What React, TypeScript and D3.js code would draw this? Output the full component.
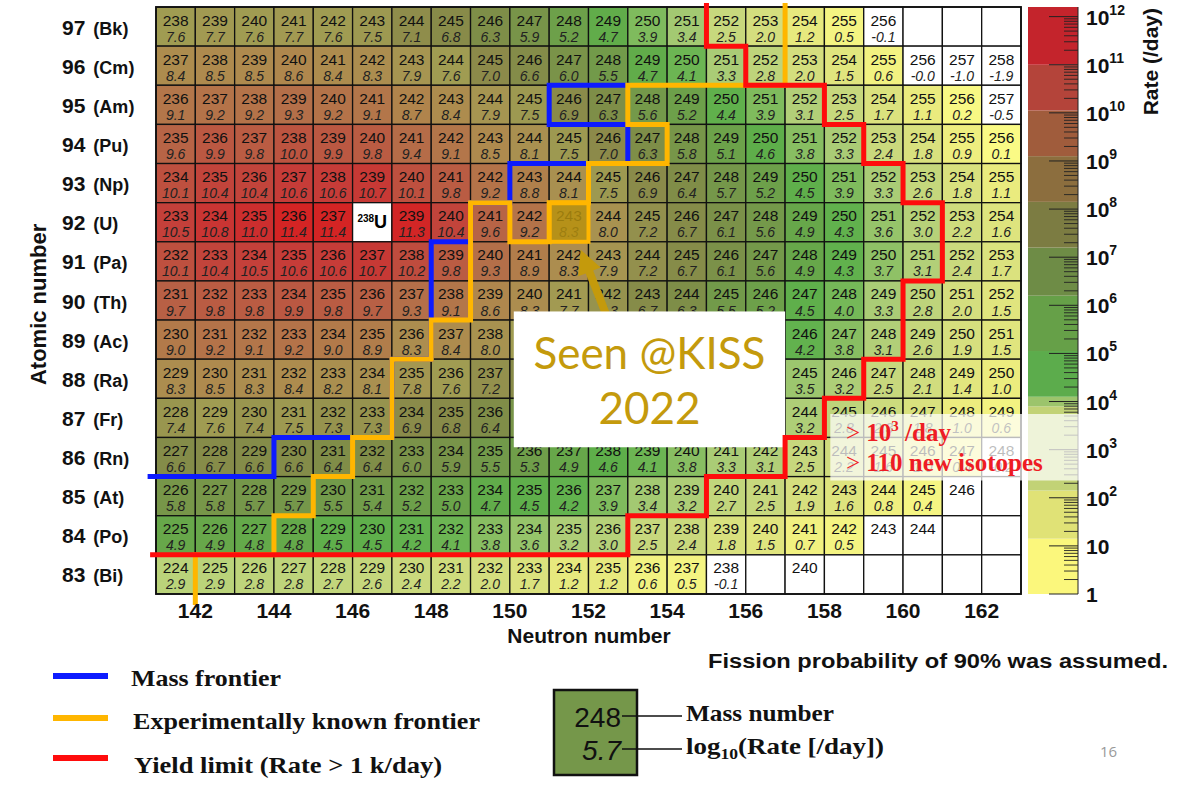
import React from 'react';
import * as d3 from 'd3';

const W = 1179;
const H = 785;

// columns run from N = 141 to N = 162
const N_FIRST = 141;
const N_LAST = 162;

// log10(rate [/day]) per cell, left to right. null = no cell, M = mass number only
const M = NaN;

const bk = [7.6, 7.7, 7.6, 7.7, 7.6, 7.5, 7.1, 6.8, 6.3, 5.9, 5.2, 4.7, 3.9, 3.4, 2.5, 2.0, 1.2, 0.5, -0.1, null, null, null];
const cm = [8.4, 8.5, 8.5, 8.6, 8.4, 8.3, 7.9, 7.6, 7.0, 6.6, 6.0, 5.5, 4.7, 4.1, 3.3, 2.8, 2.0, 1.5, 0.6, -0, -1.0, -1.9];
const am = [9.1, 9.2, 9.2, 9.3, 9.2, 9.1, 8.7, 8.4, 7.9, 7.5, 6.9, 6.3, 5.6, 5.2, 4.4, 3.9, 3.1, 2.5, 1.7, 1.1, 0.2, -0.5];
const pu = [9.6, 9.9, 9.8, 10.0, 9.9, 9.8, 9.4, 9.1, 8.5, 8.1, 7.5, 7.0, 6.3, 5.8, 5.1, 4.6, 3.8, 3.3, 2.4, 1.8, 0.9, 0.1];
const np = [10.1, 10.4, 10.4, 10.6, 10.6, 10.7, 10.1, 9.8, 9.2, 8.8, 8.1, 7.5, 6.9, 6.4, 5.7, 5.2, 4.5, 3.9, 3.3, 2.6, 1.8, 1.1];
const u = [10.5, 10.8, 11.0, 11.4, 11.4, null, 11.3, 10.4, 9.6, 9.2, 8.3, 8.0, 7.2, 6.7, 6.1, 5.6, 4.9, 4.3, 3.6, 3.0, 2.2, 1.6];
const pa = [10.1, 10.4, 10.5, 10.6, 10.6, 10.7, 10.2, 9.8, 9.3, 8.9, 8.3, 7.9, 7.2, 6.7, 6.1, 5.6, 4.9, 4.3, 3.7, 3.1, 2.4, 1.7];
const th = [9.7, 9.8, 9.8, 9.9, 9.8, 9.7, 9.3, 9.1, 8.6, 8.3, 7.7, 7.3, 6.7, 6.3, 5.5, 5.2, 4.5, 4.0, 3.3, 2.8, 2.0, 1.5];
const ac = [9.0, 9.2, 9.1, 9.2, 9.0, 8.9, 8.3, 8.4, 8.0, 7.6, 7.2, 6.6, 6.2, 5.6, 5.2, 4.6, 4.2, 3.8, 3.1, 2.6, 1.9, 1.5];
const ra = [8.3, 8.5, 8.3, 8.4, 8.2, 8.1, 7.8, 7.6, 7.2, 6.8, 6.3, 5.9, 5.4, 4.9, 4.4, 4.0, 3.5, 3.2, 2.5, 2.1, 1.4, 1.0];
const fr = [7.4, 7.6, 7.4, 7.5, 7.3, 7.3, 6.9, 6.8, 6.4, 5.9, 5.5, 5.0, 4.6, 4.2, 3.8, 3.5, 3.2, 2.8, 2.3, 1.8, 1.0, 0.6];
const rn = [6.6, 6.7, 6.6, 6.6, 6.4, 6.4, 6.0, 5.9, 5.5, 5.3, 4.9, 4.6, 4.1, 3.8, 3.3, 3.1, 2.5, 2.2, 1.6, 1.0, 0.4, -0.2];
const at = [5.8, 5.8, 5.7, 5.7, 5.5, 5.4, 5.2, 5.0, 4.7, 4.5, 4.2, 3.9, 3.4, 3.2, 2.7, 2.5, 1.9, 1.6, 0.8, 0.4, M, null];
const po = [4.9, 4.9, 4.8, 4.8, 4.5, 4.5, 4.2, 4.1, 3.8, 3.6, 3.2, 3.0, 2.5, 2.4, 1.8, 1.5, 0.7, 0.5, M, M, null, null];
const bi = [2.9, 2.9, 2.8, 2.8, 2.7, 2.6, 2.4, 2.2, 2.0, 1.7, 1.2, 1.2, 0.6, 0.5, -0.1, null, M, null, null, null, null, null];

const elements = [
  { z: 97, sym: 'Bk', rates: bk },
  { z: 96, sym: 'Cm', rates: cm },
  { z: 95, sym: 'Am', rates: am },
  { z: 94, sym: 'Pu', rates: pu },
  { z: 93, sym: 'Np', rates: np },
  { z: 92, sym: 'U', rates: u },
  { z: 91, sym: 'Pa', rates: pa },
  { z: 90, sym: 'Th', rates: th },
  { z: 89, sym: 'Ac', rates: ac },
  { z: 88, sym: 'Ra', rates: ra },
  { z: 87, sym: 'Fr', rates: fr },
  { z: 86, sym: 'Rn', rates: rn },
  { z: 85, sym: 'At', rates: at },
  { z: 84, sym: 'Po', rates: po },
  { z: 83, sym: 'Bi', rates: bi },
];

// the target nucleus, and the isotope seen at KISS
const target = { n: 146, z: 92, mass: '238', sym: 'U' };
const seenKiss = { n: 151, z: 92 };

// frontier lines along cell edges: [N edge, Z edge]
const massFrontier: [number, number][] = [
  [140.85, 86], [144, 86], [144, 87], [147, 87], [147, 89], [148, 89], [148, 92], [149, 92],
  [149, 93], [150, 93], [150, 94], [153, 94], [153, 95], [151, 95], [151, 96], [153, 96],
];
const knownFrontier: [number, number][] = [
  [142, 82.72], [142, 84], [144, 84], [144, 85], [145, 85], [145, 86], [146, 86], [146, 87],
  [147, 87], [147, 89], [148, 89], [148, 90], [149, 90], [149, 93], [150, 93], [150, 92],
  [151, 92], [151, 93], [152, 93], [152, 94], [154, 94], [154, 95], [153, 95], [153, 96],
  [157, 96], [157, 98.1],
];
const yieldLimit: [number, number][] = [
  [140.85, 84], [153, 84], [153, 85], [155, 85], [155, 86], [157, 86], [157, 87], [158, 87],
  [158, 88], [159, 88], [159, 89], [160, 89], [160, 91], [161, 91], [161, 93], [160, 93],
  [160, 94], [159, 94], [159, 95], [158, 95], [158, 96], [156, 96], [156, 97], [155, 97],
  [155, 98.1],
];

const nTicks = [142, 144, 146, 148, 150, 152, 154, 156, 158, 160, 162];
const decades = [0, 1, 2, 3, 4, 5, 6, 7, 8, 9, 10, 11, 12];

// colour palette
const cellStops: [number, string][] = [
  [0, '#fbfb86'], [1, '#ecec7e'], [2, '#d4de7e'], [2.7, '#c2d67c'], [3.3, '#aacc76'],
  [3.8, '#88be62'], [4.2, '#62b24e'], [4.6, '#5eae4a'], [5.0, '#6aa44a'], [5.5, '#729a4a'],
  [6.3, '#7e8e48'], [7.0, '#8c8a4a'], [7.6, '#a09c52'], [8.0, '#a89250'], [8.5, '#ae8a4e'],
  [9.0, '#b27a4a'], [9.5, '#b66848'], [10.0, '#bc5440'], [10.5, '#c4403a'], [11.0, '#cc2e2e'],
  [11.4, '#d42424'],
];
const barEdges = [0, 1.15, 2.15, 3.9, 4.1, 5.05, 6.2, 7.2, 8.15, 9.1, 10.05, 11, 12.2];
const barColors = ['#fbf77c', '#e0e276', '#c2d276', '#9cc46c', '#5cac4c', '#66a048', '#6e8c46',
  '#7c7c42', '#8c6e3e', '#a05c3c', '#b4443a', '#c4242c'];

const SANS = 'Liberation Sans, Arial, Helvetica, sans-serif';
const SERIF = 'Liberation Serif, Times New Roman, serif';
const BLUE = '#0d1bff';
const ORANGE = '#ffb600';
const RED = '#ff0c0c';
const GOLD = '#c49a0c';

const fmt = (v: number) => (v < 0 || Object.is(v, -0) ? '-' + Math.abs(v).toFixed(1) : v.toFixed(1));

export default function App() {
  const x = d3.scaleLinear().domain([N_FIRST, N_LAST + 1]).range([156, 1021]);
  const y = d3.scaleLinear().domain([83, 98]).range([594, 7]);
  const cb = d3.scaleLinear().domain([0, 12.2]).range([594, 7]);
  const fill = d3.scaleLinear<string>()
    .domain(cellStops.map(d => d[0]))
    .range(cellStops.map(d => d[1]))
    .clamp(true);
  const line = d3.line<[number, number]>().x(d => x(d[0])).y(d => y(d[1]));
  const cw = x(N_FIRST + 1) - x(N_FIRST);
  const ch = y(83) - y(84);

  const cells = elements.flatMap(el =>
    el.rates.map((r, i) => ({ n: N_FIRST + i, z: el.z, r }))
  );

  // arrow from the annotation box to the 243U cell
  const tail = [x(152.7), y(89.5)];
  const tip = [x(151.8), y(91.8)];
  const dx = tip[0] - tail[0], dy = tip[1] - tail[1];
  const len = Math.hypot(dx, dy);
  const ux = dx / len, uy = dy / len, px = -uy, py = ux;
  const hl = 24, hw = 12, sw = 4;
  const bx = tip[0] - ux * hl, by = tip[1] - uy * hl;
  const arrowPts = [
    [tail[0] + px * sw, tail[1] + py * sw],
    [bx + px * sw, by + py * sw],
    [bx + px * hw, by + py * hw],
    tip,
    [bx - px * hw, by - py * hw],
    [bx - px * sw, by - py * sw],
    [tail[0] - px * sw, tail[1] - py * sw],
  ].map(p => p.join(',')).join(' ');

  const cbMinor = decades.slice(0, 12).flatMap(k => [2, 3, 4, 5, 6, 7, 8, 9].map(m => k + Math.log10(m)));
  const boxL = x(150.1), boxR = x(157);

  return (
    <svg width={W} height={H} style={{ position: 'absolute', left: 0, top: 0, background: '#fff' }}>
      <rect width={W} height={H} fill="#fff" />

      {/* cells */}
      <g>
        {cells.map(c => {
          const hasVal = c.r !== null && !Number.isNaN(c.r);
          const bg = hasVal && (c.r as number) >= 0.05 && !Object.is(c.r, -0) ? fill(c.r as number) : '#fff';
          return (
            <rect key={`r${c.z}-${c.n}`} x={x(c.n)} y={y(c.z + 1)} width={cw} height={ch}
              fill={bg} stroke="#111" strokeWidth={1.3} />
          );
        })}
        {cells.filter(c => c.r !== null).map(c => {
          const cx = x(c.n + 0.5);
          const top = y(c.z + 1);
          return (
            <g key={`t${c.z}-${c.n}`} fontFamily={SANS} textAnchor="middle">
              <text x={cx} y={top + 18.5} fontSize={15.5} fill="#111">{c.z + c.n}</text>
              {!Number.isNaN(c.r) && (
                <text x={cx} y={top + 34.6} fontSize={14} fontStyle="italic" fill="#222">{fmt(c.r as number)}</text>
              )}
            </g>
          );
        })}
        <text x={x(target.n + 0.5)} y={y(target.z + 0.5) + 6} textAnchor="middle" fontFamily={SANS} fontWeight="bold">
          <tspan fontSize={10} dy={-6}>{target.mass}</tspan>
          <tspan fontSize={18} dy={6}>{target.sym}</tspan>
        </text>
      </g>

      {/* frame */}
      <rect x={x(N_FIRST)} y={y(98)} width={x(N_LAST + 1) - x(N_FIRST)} height={y(83) - y(98)}
        fill="none" stroke="#111" strokeWidth={1.8} />

      {/* 243U seen at KISS */}
      <rect x={x(seenKiss.n)} y={y(seenKiss.z + 1)} width={cw} height={ch}
        fill="#b8920e" fillOpacity={0.82} stroke={ORANGE} strokeWidth={4} />
      <polygon points={arrowPts} fill={GOLD} />

      {/* annotation box */}
      <rect x={boxL} y={y(90.22)} width={boxR - boxL} height={y(86.75) - y(90.22)} fill="#fff" />
      <text x={(boxL + boxR) / 2} y={369} textAnchor="middle" fontFamily="Lato, Open Sans, sans-serif"
        fontSize={44} fill={GOLD}>Seen @KISS</text>
      <text x={(boxL + boxR) / 2} y={424} textAnchor="middle" fontFamily="Lato, Open Sans, sans-serif"
        fontSize={44} fill={GOLD}>2022</text>

      {/* frontiers */}
      <path d={line(massFrontier) || ''} fill="none" stroke={BLUE} strokeWidth={5} strokeLinejoin="miter" strokeLinecap="square" />
      <path d={line(knownFrontier) || ''} fill="none" stroke={ORANGE} strokeWidth={5} strokeLinejoin="miter" strokeLinecap="butt" />
      <path d={line(yieldLimit) || ''} fill="none" stroke={RED} strokeWidth={5} strokeLinejoin="miter" strokeLinecap="butt" />

      {/* y axis */}
      {elements.map(el => (
        <text key={`y${el.z}`} x={62} y={y(el.z + 0.5) + 8} fontFamily={SANS} fontWeight="bold" fill="#111">
          <tspan fontSize={21}>{el.z}</tspan>
          <tspan fontSize={18} dx={8}>({el.sym})</tspan>
        </text>
      ))}
      <text transform={`translate(46,${y(90.4)}) rotate(-90)`} textAnchor="middle" fontFamily={SANS}
        fontWeight="bold" fontSize={22} fill="#111">Atomic number</text>

      {/* x axis */}
      {nTicks.map(t => (
        <text key={`x${t}`} x={x(t)} y={618} textAnchor="middle" fontFamily={SANS} fontWeight="bold"
          fontSize={21} fill="#111">{t}</text>
      ))}
      <text x={589} y={643} textAnchor="middle" fontFamily={SANS} fontWeight="bold" fontSize={21} fill="#111">Neutron number</text>

      {/* colour bar */}
      <g>
        {barColors.map((c, i) => (
          <rect key={`b${i}`} x={1028} y={cb(barEdges[i + 1])} width={50} height={cb(barEdges[i]) - cb(barEdges[i + 1])} fill={c} />
        ))}
        <line x1={1078} x2={1078} y1={cb(12.2)} y2={cb(0)} stroke="#222" strokeWidth={1} />
        {decades.map(k => (
          <line key={`M${k}`} x1={1078} x2={1049} y1={cb(k)} y2={cb(k)} stroke="#222" strokeWidth={1} />
        ))}
        {cbMinor.map((v, i) => (
          <line key={`m${i}`} x1={1078} x2={1064} y1={cb(v)} y2={cb(v)} stroke="#222" strokeWidth={0.9} />
        ))}
        {decades.map(k => (
          <text key={`l${k}`} x={1086} y={cb(k) + 8} fontFamily={SANS} fontWeight="bold" fontSize={21} fill="#111">
            {k === 0 ? '1' : '10'}
            {k > 1 && <tspan fontSize={14} dy={-10}>{k}</tspan>}
          </text>
        ))}
        <text transform="translate(1158,8) rotate(-90)" textAnchor="end" fontFamily={SANS} fontWeight="bold"
          fontSize={21} fill="#111">Rate (/day)</text>
      </g>

      {/* new-isotopes overlay */}
      <rect x={x(158.15)} y={y(87.6)} width={1080 - x(158.15)} height={y(85.9) - y(87.6)} fill="#fff" fillOpacity={0.72} />
      <text x={846} y={441} fontFamily={SERIF} fontSize={25} fill="#ee1c24">
        <tspan>&gt; </tspan>
        <tspan fontWeight="bold">10</tspan>
        <tspan fontWeight="bold" fontSize={15} dy={-10}>3</tspan>
        <tspan fontWeight="bold" dy={10}> /day</tspan>
      </text>
      <text x={846} y={471} fontFamily={SERIF} fontSize={25} fill="#ee1c24">
        <tspan>&gt; </tspan>
        <tspan fontWeight="bold">110 new isotopes</tspan>
      </text>

      {/* line legend */}
      <g fontFamily={SERIF} fontWeight="bold" fontSize={23} fill="#111">
        <line x1={53} x2={108} y1={676} y2={676} stroke={BLUE} strokeWidth={6} />
        <text x={131} y={686} textLength={150} lengthAdjust="spacingAndGlyphs">Mass frontier</text>
        <line x1={53} x2={108} y1={718} y2={718} stroke={ORANGE} strokeWidth={6} />
        <text x={133} y={729} textLength={347} lengthAdjust="spacingAndGlyphs">Experimentally known frontier</text>
        <line x1={53} x2={108} y1={758} y2={758} stroke={RED} strokeWidth={6} />
        <text x={134} y={773} textLength={308} lengthAdjust="spacingAndGlyphs">Yield limit (Rate &gt; 1 k/day)</text>
      </g>

      <text x={708} y={668} fontFamily={SANS} fontWeight="bold" fontSize={20} fill="#111"
        textLength={460} lengthAdjust="spacingAndGlyphs">
        Fission probability of 90% was assumed.
      </text>

      {/* cell legend */}
      <rect x={554} y={690} width={83} height={85} fill={fill(5.7)} stroke="#111" strokeWidth={2.5} />
      <text x={621} y={727} textAnchor="end" fontFamily={SANS} fontSize={28} fill="#111">248</text>
      <text x={621} y={760} textAnchor="end" fontFamily={SANS} fontStyle="italic" fontSize={28} fill="#111">5.7</text>
      <line x1={622} x2={682} y1={716} y2={716} stroke="#111" strokeWidth={1.5} />
      <line x1={622} x2={682} y1={749} y2={749} stroke="#111" strokeWidth={1.5} />
      <g fontFamily={SERIF} fontWeight="bold" fontSize={23} fill="#111">
        <text x={686} y={721} textLength={148} lengthAdjust="spacingAndGlyphs">Mass number</text>
        <text x={686} y={754} textLength={198} lengthAdjust="spacingAndGlyphs">
          log<tspan fontSize={15} dy={5}>10</tspan><tspan dy={-5}>(Rate [/day])</tspan>
        </text>
      </g>
      <text x={1100} y={757} fontFamily="Open Sans, sans-serif" fontSize={15} fill="#9a9a9a">16</text>
    </svg>
  );
}
